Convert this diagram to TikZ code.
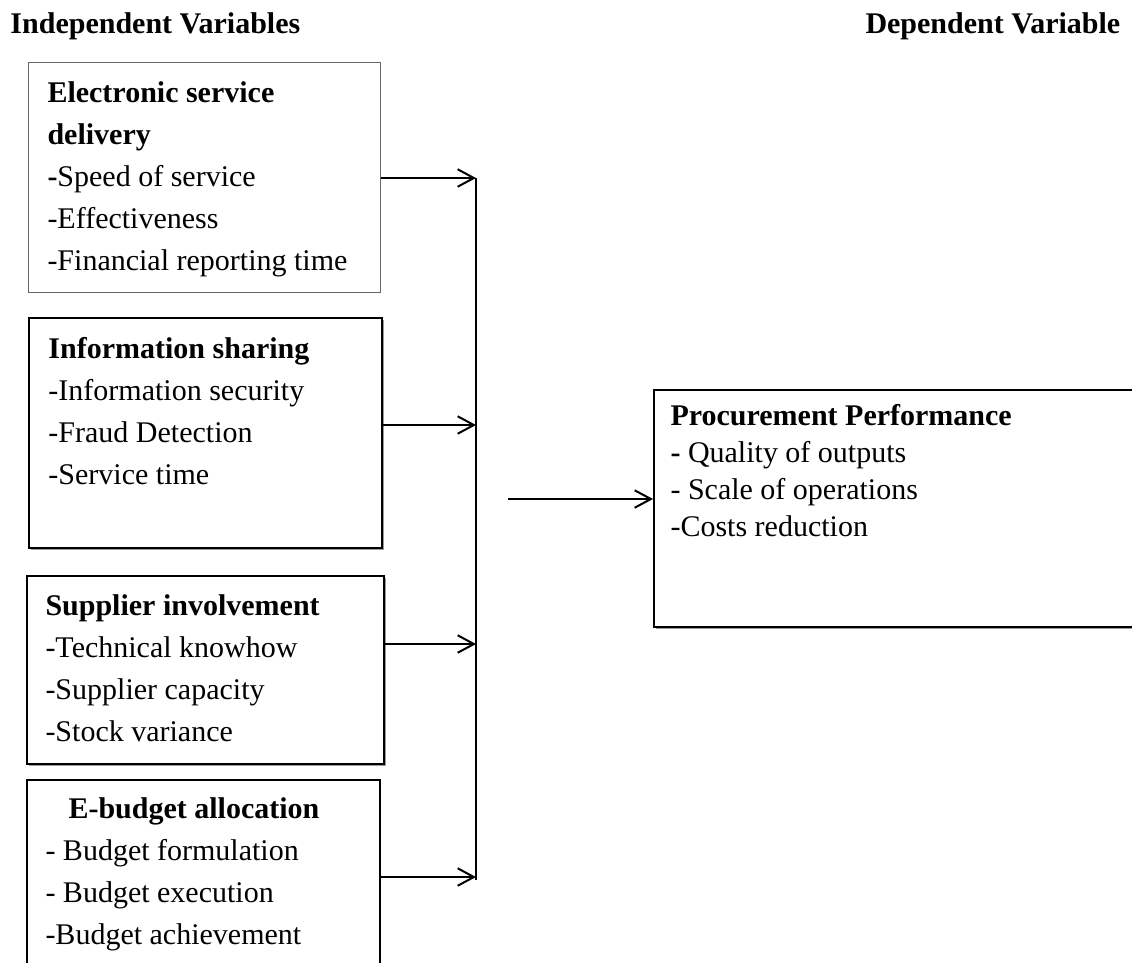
\documentclass[tikz,border=0pt]{standalone}
\usepackage{fontspec}
\setmainfont{Liberation Serif}
\usetikzlibrary{positioning, arrows.meta, shadows}

\tikzset{
  varbox/.style={draw, fill=white, line width=0.8pt, anchor=north west, inner sep=0pt},
  shadowbox/.style={varbox, drop shadow={shadow xshift=0.8pt, shadow yshift=-0.8pt, fill=black!40, opacity=1}},
  vartext/.style={anchor=north west, align=left, inner sep=0pt, font=\fontsize{12}{16.8}\selectfont},
  headtext/.style={anchor=base west, inner sep=0pt, font=\fontsize{12}{16.8}\selectfont\bfseries},
  link/.style={line width=0.8pt, -{Straight Barb[length=6.5pt, width=7pt, line width=0.8pt]}},
}

\begin{document}
\begin{tikzpicture}[x=0.4pt, y=-0.4pt]
    \useasboundingbox (0,0) rectangle (1132,962);
    \clip (0,0) rectangle (1132,962);

    % column titles
    \node[headtext] (indep) at (10,33) {Independent Variables};
    \node[headtext] (dep) at (865,33) {Dependent Variable};

    % independent variable boxes
    \node[varbox, draw=black!60, line width=0.4pt, minimum width=352*0.4pt, minimum height=230*0.4pt] (esd) at (28,62) {};
    \node[shadowbox, minimum width=353*0.4pt, minimum height=230*0.4pt] (info) at (28,317) {};
    \node[shadowbox, minimum width=357*0.4pt, minimum height=188*0.4pt] (supp) at (26,575) {};
    \node[varbox, minimum width=353*0.4pt, minimum height=260*0.4pt] (ebud) at (26,779) {};

    \node[vartext] (esdtxt) at (47,81) {\textbf{Electronic service}\\\textbf{delivery}\\\textbf{-}Speed of service\\-Effectiveness\\-Financial reporting time};
    \node[vartext] (infotxt) at (48,337) {\textbf{Information sharing}\\-Information security\\-Fraud Detection\\-Service time};
    \node[vartext] (supptxt) at (45,594) {\textbf{Supplier involvement}\\-Technical knowhow\\-Supplier capacity\\-Stock variance};
    \node[vartext] (ebudtxt) at (45,797) {\hspace*{9.2pt}\textbf{E-budget allocation}\\- Budget formulation\\- Budget execution\\-Budget achievement};

    % dependent variable box
    \node[shadowbox, minimum width=520*0.4pt, minimum height=237*0.4pt] (perf) at (653,389) {};
    \node[vartext, font=\fontsize{12}{14.8}\selectfont] (perftxt) at (670,404) {\textbf{Procurement Performance}\\\textbf{-} Quality of outputs\\- Scale of operations\\-Costs reduction};

    % collecting line
    \coordinate (b1) at (476,178);
    \coordinate (b2) at (476,425);
    \coordinate (b3) at (476,644);
    \coordinate (b4) at (476,877);
    \coordinate (bend) at (476,880);
    \coordinate (bout) at (508,499);
    \draw[line width=0.8pt] (b1) -- (bend);

    \draw[link] (esd.east |- b1) -- (b1);
    \draw[link] (info.east |- b2) -- (b2);
    \draw[link] (supp.east |- b3) -- (b3);
    \draw[link] (ebud.east |- b4) -- (b4);
    \draw[link] (bout) -- (perf.west |- bout);
\end{tikzpicture}
\end{document}
